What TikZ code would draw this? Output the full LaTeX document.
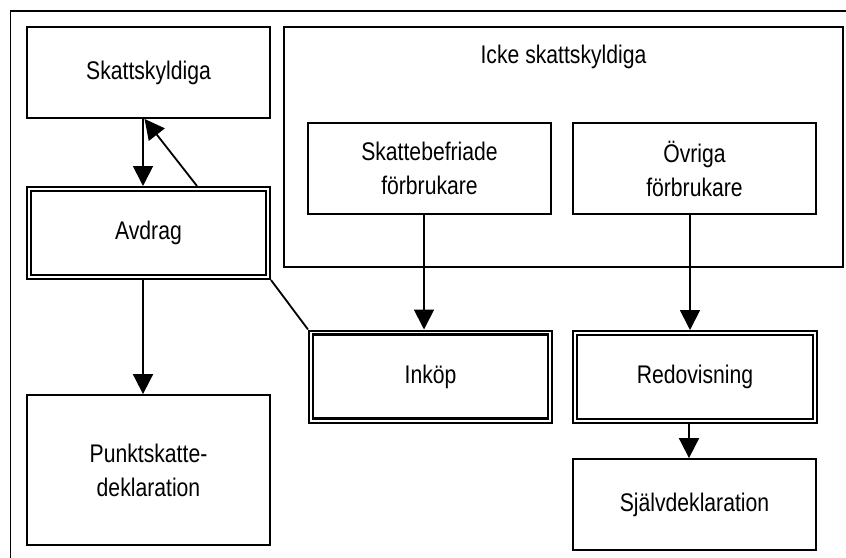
\documentclass[tikz,border=0pt]{standalone}
\usepackage{fontspec}
\setmainfont{Liberation Sans}[FakeStretch=0.83]
\usetikzlibrary{arrows.meta,calc}
\begin{document}
\begin{tikzpicture}[x=1pt,y=-1pt,
  every node/.style={font=\fontsize{25.5}{34}\selectfont, align=center, inner sep=0pt},
  box/.style={draw, line width=1.8pt, minimum width=243pt, minimum height=91pt},
  dbox/.style={draw, line width=2pt, minimum width=243pt, minimum height=92pt},
  inner/.style={line width=2.8pt},
  arr/.style={line width=1.8pt, -{Triangle[length=20pt,width=20pt]}},
  plain/.style={line width=1.8pt}]
\useasboundingbox (0,0) rectangle (846,557);
\clip (0,0) rectangle (846,557);
\fill[white] (0,0) rectangle (846,557);
% outer frame (clipped at the right and bottom)
\draw[line width=1.8pt] (10.5,11) rectangle (870,580);
% nodes
\node[box] (sk) at (148.5,72.5) {Skattskyldiga};
\node[dbox] (av) at (148.5,233) {Avdrag};
\node[box, minimum height=150pt] (pk) at (148.5,470) {Punktskatte-\\deklaration};
\node[draw, line width=1.8pt, minimum width=559pt, minimum height=240pt] (icke) at (563.5,147) {};
\node (ickel) at (563.5,57) {Icke skattskyldiga};
\node[box] (sb) at (429.5,168.5) {Skattebefriade\\förbrukare};
\node[box] (ov) at (694.5,168.5) {Övriga\\förbrukare};
\node[dbox] (ink) at (430.5,376.5) {Inköp};
\node[dbox, minimum width=244pt] (red) at (695,377) {Redovisning};
\node[box] (sj) at (694.5,504.5) {Självdeklaration};
% inner lines of the double boxes
\foreach \n in {av,ink,red}
  \draw[inner] ([shift={(5pt,5pt)}]\n.south west) rectangle ([shift={(-5pt,-5pt)}]\n.north east);
% connectors
\draw[arr] ([xshift=-5.5pt]sk.south) -- ([xshift=-5.5pt]av.north);
\draw[arr] ([xshift=48.5pt]av.north) -- ([xshift=-4pt]sk.south);
\draw[arr] ([xshift=-5.5pt]av.south) -- ([xshift=-5.5pt]pk.north);
\draw[plain] (av.south east) -- (ink.north west);
\draw[arr] ([xshift=-5.5pt]sb.south) -- ([xshift=-5.5pt]sb.south |- ink.north);
\draw[arr] ([xshift=-4.5pt]ov.south) -- ([xshift=-4.5pt]ov.south |- red.north);
\draw[arr] ([xshift=-6pt]red.south) -- ([xshift=-6pt]red.south |- sj.north);
\end{tikzpicture}
\end{document}
